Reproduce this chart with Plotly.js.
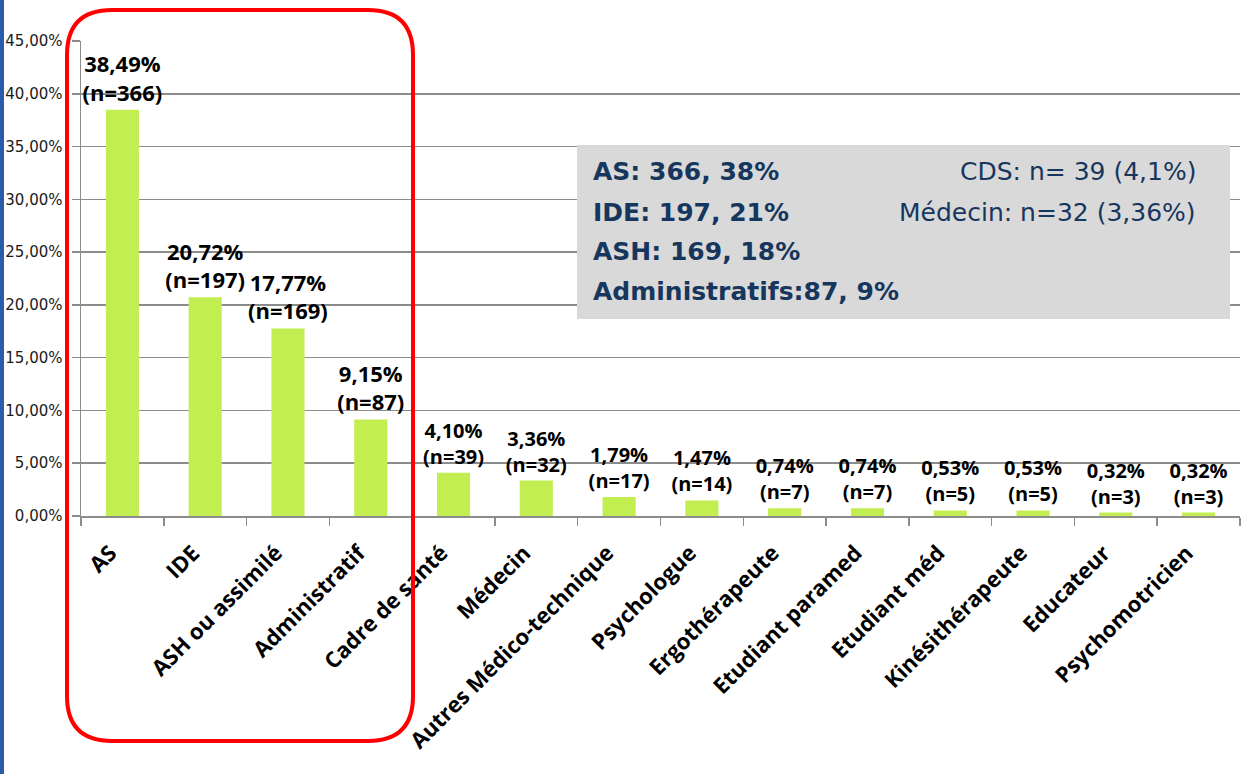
<!DOCTYPE html>
<html>
<head>
<meta charset="utf-8">
<script src="https://cdn.plot.ly/plotly-3.0.1.min.js"></script>
<style>html,body{margin:0;padding:0;background:#fff;}#chart{width:1242px;height:774px;}</style>
</head>
<body>
<div id="chart"></div>
<script>
// ---- data ----
var categories = ['AS','IDE','ASH ou assimilé','Administratif','Cadre de santé','Médecin',
  'Autres Médico-technique','Psychologue','Ergothérapeute','Etudiant paramed','Etudiant méd',
  'Kinésithérapeute','Educateur','Psychomotricien'];
var percents = [38.49,20.72,17.77,9.15,4.10,3.36,1.79,1.47,0.74,0.74,0.53,0.53,0.32,0.32];
var counts = [366,197,169,87,39,32,17,14,7,7,5,5,3,3];
var yTicks = [0,5,10,15,20,25,30,35,40,45];
var boxLeft = ['AS: 366, 38%','IDE: 197, 21%','ASH: 169, 18%','Administratifs:87, 9%'];
var boxRight = ['CDS: n= 39 (4,1%)','Médecin: n=32 (3,36%)'];

// ---- layout geometry (pixels) ----
var W = 1242, H = 774, L = 81, R = 1240, T = 41, B = 516;
function px(x){ return (x - L) / (R - L); }
function py(y){ return (B - y) / (B - T); }
function fr(v){ return v.toFixed(2).replace('.', ','); }

var labels = percents.map(function(p, i){
  return fr(p) + '%<br>(n=' + counts[i] + ')';
});
var labelSizes = percents.map(function(p, i){ return i < 4 ? 22 : 20; });
var yTickText = yTicks.map(function(v){ return fr(v) + '%'; });

var trace = {
  type: 'bar',
  x: categories,
  y: percents,
  text: labels,
  textposition: 'outside',
  constraintext: 'none',
  cliponaxis: false,
  textfont: {family: 'Open Sans', size: labelSizes, color: '#000', weight: 'bold'},
  marker: {color: '#c3ee52', line: {width: 0}},
  hoverinfo: 'none'
};

// rounded red frame
var fl = px(67), frt = px(413), ft = py(10), fb = py(741);
var rx = 45 / (R - L), ry = 45 / (B - T);
var framePath = 'M ' + (fl+rx) + ',' + ft + ' L ' + (frt-rx) + ',' + ft +
  ' Q ' + frt + ',' + ft + ' ' + frt + ',' + (ft-ry) +
  ' L ' + frt + ',' + (fb+ry) + ' Q ' + frt + ',' + fb + ' ' + (frt-rx) + ',' + fb +
  ' L ' + (fl+rx) + ',' + fb + ' Q ' + fl + ',' + fb + ' ' + fl + ',' + (fb+ry) +
  ' L ' + fl + ',' + (ft-ry) + ' Q ' + fl + ',' + ft + ' ' + (fl+rx) + ',' + ft + ' Z';

var boxFont = {family: 'DejaVu Sans', size: 25, color: '#17365d'};
var annotations = [];
var lineY = [172, 212, 251, 291];
boxLeft.forEach(function(t, i){
  annotations.push({xref:'paper', yref:'paper', x: px(591), y: py(lineY[i]), xanchor:'left', yanchor:'middle',
    text: '<b>' + t + '</b>', showarrow:false, font: boxFont});
});
boxRight.forEach(function(t, i){
  annotations.push({xref:'paper', yref:'paper', x: px(1198), y: py(lineY[i]), xanchor:'right', yanchor:'middle',
    text: t, showarrow:false, font: boxFont});
});

var layout = {
  width: W, height: H,
  margin: {l: L, r: W - R, t: T, b: H - B, pad: 0},
  paper_bgcolor: '#fff', plot_bgcolor: '#fff',
  showlegend: false,
  bargap: 0.6,
  xaxis: {
    type: 'category', automargin: false,
    tickangle: -45, tickson: 'boundaries', ticks: 'outside', ticklen: 8, tickcolor: '#8c8c8c', tickwidth: 1.5,
    ticklabelstandoff: 14, ticklabelshift: -12,
    showline: true, linecolor: '#8c8c8c', linewidth: 1.5, showgrid: false,
    tickfont: {family: 'Open Sans', size: 22, color: '#000', weight: 'bold'}
  },
  yaxis: {
    range: [0, 45], tickvals: yTicks, ticktext: yTickText, automargin: false,
    ticks: 'outside', ticklen: 8, tickcolor: '#8c8c8c', tickwidth: 1.5, ticklabelstandoff: 6,
    showline: true, linecolor: '#8c8c8c', linewidth: 1.5,
    showgrid: true, gridcolor: '#8c8c8c', gridwidth: 1.5, zeroline: false,
    tickfont: {family: 'DejaVu Sans', size: 15, color: '#1a1a1a'}
  },
  shapes: [
    {type:'rect', xref:'paper', yref:'paper', x0: px(577), x1: px(1230), y0: py(319), y1: py(145),
     fillcolor:'#d9d9d9', line:{width:0}, layer:'above'},
    {type:'path', xref:'paper', yref:'paper', path: framePath, line:{color:'#ff0000', width:4}, layer:'above'},
    {type:'rect', xref:'paper', yref:'paper', x0: px(0), x1: px(4), y0: py(774), y1: py(0),
     fillcolor:'#2b5bab', line:{width:0}, layer:'above'}
  ],
  annotations: annotations
};

Plotly.newPlot('chart', [trace], layout, {displayModeBar: false, staticPlot: true});
</script>
</body>
</html>
